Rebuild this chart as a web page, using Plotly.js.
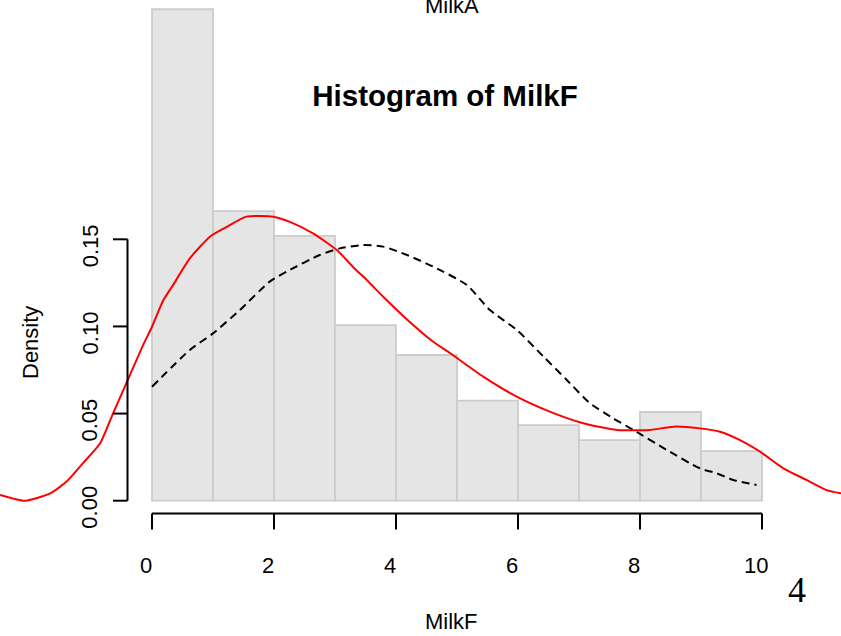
<!DOCTYPE html>
<html><head><meta charset="utf-8">
<script src="https://cdn.plot.ly/plotly-3.0.1.min.js"></script>
<style>html,body{margin:0;padding:0;background:#fff;overflow:hidden}</style>
</head><body><div id="chart" style="width:841px;height:636px"></div>
<script>
// ---- data ----
const binLeft = [0, 1, 2, 3, 4, 5, 6, 7, 8, 9];
const binDensity = [0.282, 0.1662, 0.152, 0.1008, 0.0836, 0.0574, 0.0434, 0.0348, 0.0509, 0.0285];

// red solid curve (kernel density)
const kdeX = [-2.49, -2.08, -1.67, -1.40, -1.13, -0.85, -0.64, -0.40, -0.15, 0.0, 0.185, 0.35, 0.62, 0.95, 1.22, 1.55, 1.99, 2.26, 2.64, 3.03, 3.30, 3.52, 3.79, 4.18, 4.61, 4.89, 5.43, 5.98, 6.52, 7.07, 7.62, 8.16, 8.55, 8.98, 9.31, 9.64, 9.97, 10.35, 10.73, 11.06, 11.30];
const kdeY = [0.0033, 0.0000, 0.0042, 0.011, 0.0216, 0.033, 0.050, 0.069, 0.089, 0.0998, 0.115, 0.124, 0.139, 0.1515, 0.157, 0.163, 0.163, 0.160, 0.1534, 0.1438, 0.134, 0.1266, 0.117, 0.104, 0.0912, 0.0846, 0.0712, 0.0597, 0.0511, 0.0444, 0.0406, 0.0406, 0.0425, 0.0415, 0.0396, 0.0348, 0.0281, 0.0186, 0.0119, 0.0061, 0.0042];

// black dashed curve
const refX = [0.0, 0.62, 1.00, 1.44, 1.93, 2.26, 2.75, 3.08, 3.46, 3.79, 4.18, 4.61, 5.16, 5.54, 5.98, 6.42, 6.80, 7.18, 7.56, 7.89, 8.44, 8.98, 9.26, 9.53, 9.91];
const refY = [0.0654, 0.0865, 0.096, 0.1094, 0.1257, 0.1324, 0.141, 0.1448, 0.1467, 0.1458, 0.141, 0.1343, 0.1238, 0.1094, 0.098, 0.0826, 0.0693, 0.0559, 0.0473, 0.0406, 0.0291, 0.0186, 0.0157, 0.0119, 0.009];

const xTicks = [0, 2, 4, 6, 8, 10];
const xTickLabels = ['0', '2', '4', '6', '8', '10'];
const yTicks = [0, 0.05, 0.10, 0.15];
const yTickLabels = ['0.00', '0.05', '0.10', '0.15'];

const titleText = 'Histogram of MilkF';
const xTitle = 'MilkF';
const yTitle = 'Density';
const topText = 'MilkA';
const cornerText = '4';

// ---- drawing ----
const W = 841, H = 636;
const px = v => v / W;            // pixel x -> paper x
const py = v => 1 - v / H;        // pixel y -> paper y
const FONT = '"Liberation Sans", Arial, Helvetica, sans-serif';

const traces = [
  {type: 'bar', x: binLeft, y: binDensity, width: 1, offset: 0,
   marker: {color: '#e5e5e5', line: {color: '#cccccc', width: 1.8}},
   hoverinfo: 'skip', showlegend: false},
  {type: 'scatter', mode: 'lines', x: refX, y: refY,
   line: {color: '#000000', width: 2, dash: '8px,5px', shape: 'spline', smoothing: 0.6},
   hoverinfo: 'skip', showlegend: false},
  {type: 'scatter', mode: 'lines', x: kdeX, y: kdeY,
   line: {color: '#ff0000', width: 2, shape: 'spline', smoothing: 0.6},
   hoverinfo: 'skip', showlegend: false}
];

const shapes = [];
const annotations = [];
const axisLine = {color: '#000000', width: 2};
const xAxisY = py(513.5), xTickEnd = py(529.5);
const yAxisX = px(127.5), yTickEnd = px(113);

shapes.push({type: 'line', xref: 'x', yref: 'paper', x0: xTicks[0], x1: xTicks[xTicks.length - 1], y0: xAxisY, y1: xAxisY, line: axisLine});
xTicks.forEach((t, i) => {
  shapes.push({type: 'line', xref: 'x', yref: 'paper', x0: t, x1: t, y0: xAxisY, y1: xTickEnd, line: axisLine});
  annotations.push({text: xTickLabels[i], xref: 'x', yref: 'paper', x: t, y: py(565), xshift: -6,
    xanchor: 'center', yanchor: 'middle', showarrow: false, font: {family: FONT, size: 22, color: '#000'}});
});
shapes.push({type: 'line', xref: 'paper', yref: 'y', x0: yAxisX, x1: yAxisX, y0: yTicks[0], y1: yTicks[yTicks.length - 1], line: axisLine});
yTicks.forEach((t, i) => {
  shapes.push({type: 'line', xref: 'paper', yref: 'y', x0: yTickEnd, x1: yAxisX, y0: t, y1: t, line: axisLine});
  annotations.push({text: yTickLabels[i], xref: 'paper', yref: 'y', x: px(90), y: t, yshift: -7, textangle: -90,
    xanchor: 'center', yanchor: 'middle', showarrow: false, font: {family: FONT, size: 22, color: '#000'}});
});

annotations.push({text: xTitle, xref: 'paper', yref: 'paper', x: px(451), y: py(621), xanchor: 'center', yanchor: 'middle',
  showarrow: false, font: {family: FONT, size: 22, color: '#000'}});
annotations.push({text: yTitle, xref: 'paper', yref: 'paper', x: px(30), y: py(343), textangle: -90, xanchor: 'center', yanchor: 'middle',
  showarrow: false, font: {family: FONT, size: 22, color: '#000'}});
annotations.push({text: topText, xref: 'paper', yref: 'paper', x: px(452), y: py(5), xanchor: 'center', yanchor: 'middle',
  showarrow: false, font: {family: FONT, size: 22, color: '#000'}});
annotations.push({text: cornerText, xref: 'paper', yref: 'paper', x: px(796.5), y: py(590), xanchor: 'center', yanchor: 'middle',
  showarrow: false, font: {family: '"Liberation Serif", "Times New Roman", serif', size: 36, color: '#000'}});

const layout = {
  width: W, height: H,
  margin: {l: 0, r: 0, t: 0, b: 0, pad: 0},
  paper_bgcolor: '#ffffff', plot_bgcolor: '#ffffff',
  showlegend: false,
  bargap: 0,
  title: {text: titleText, x: px(445), y: py(96), xref: 'paper', yref: 'container', xanchor: 'center', yanchor: 'middle',
    font: {family: FONT, size: 29.5, color: '#000', weight: 'bold'}},
  xaxis: {range: [-152 / 61, (W - 152) / 61], visible: false, fixedrange: true},
  yaxis: {range: [(500.7 - H) / 1742.7, 500.7 / 1742.7], visible: false, fixedrange: true},
  shapes: shapes,
  annotations: annotations
};

Plotly.newPlot('chart', traces, layout, {displayModeBar: false, staticPlot: true});
</script>
</body></html>
